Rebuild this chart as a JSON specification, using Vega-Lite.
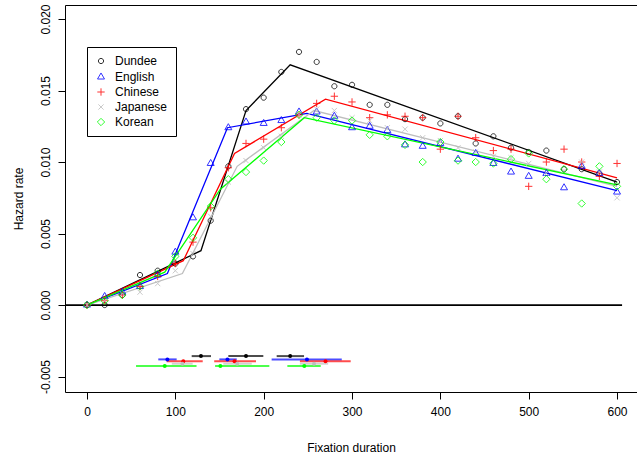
{
  "$schema": "https://vega.github.io/schema/vega-lite/v6.json",
  "width": 572,
  "height": 387,
  "autosize": {"type": "none"},
  "padding": {"left": 65, "top": 5, "right": 0, "bottom": 63},
  "background": "white",
  "config": {
    "view": {"stroke": "black", "strokeWidth": 1},
    "font": "Liberation Sans",
    "axis": {"labelFont": "Liberation Sans", "titleFont": "Liberation Sans"}
  },
  "datasets": {
    "fit": [
      {"l": "Dundee", "d": 0, "h": 0}, {"l": "Dundee", "d": 129, "h": 0.0038}, {"l": "Dundee", "d": 180, "h": 0.0136}, {"l": "Dundee", "d": 230, "h": 0.0168}, {"l": "Dundee", "d": 600, "h": 0.0086},
      {"l": "English", "d": 0, "h": 0}, {"l": "English", "d": 91, "h": 0.0022}, {"l": "English", "d": 159, "h": 0.0124}, {"l": "English", "d": 249, "h": 0.0134}, {"l": "English", "d": 600, "h": 0.0080},
      {"l": "Chinese", "d": 0, "h": 0}, {"l": "Chinese", "d": 109, "h": 0.0031}, {"l": "Chinese", "d": 167, "h": 0.0106}, {"l": "Chinese", "d": 270, "h": 0.0144}, {"l": "Chinese", "d": 600, "h": 0.0089},
      {"l": "Japanese", "d": 0, "h": 0}, {"l": "Japanese", "d": 108, "h": 0.0022}, {"l": "Japanese", "d": 170, "h": 0.0097}, {"l": "Japanese", "d": 257, "h": 0.0136}, {"l": "Japanese", "d": 600, "h": 0.0083},
      {"l": "Korean", "d": 0, "h": 0}, {"l": "Korean", "d": 88, "h": 0.0023}, {"l": "Korean", "d": 151, "h": 0.0081}, {"l": "Korean", "d": 246, "h": 0.0131}, {"l": "Korean", "d": 600, "h": 0.0084}
    ],
    "obs": [
      {"l":"Dundee","d":0,"h":0},{"l":"Dundee","d":20,"h":0},{"l":"Dundee","d":40,"h":0.0007},{"l":"Dundee","d":60,"h":0.0021},{"l":"Dundee","d":80,"h":0.0024},{"l":"Dundee","d":100,"h":0.0029},{"l":"Dundee","d":120,"h":0.0034},{"l":"Dundee","d":140,"h":0.0059},{"l":"Dundee","d":160,"h":0.0097},{"l":"Dundee","d":180,"h":0.0137},{"l":"Dundee","d":200,"h":0.0145},{"l":"Dundee","d":220,"h":0.0163},{"l":"Dundee","d":240,"h":0.0177},{"l":"Dundee","d":260,"h":0.0170},{"l":"Dundee","d":280,"h":0.0153},{"l":"Dundee","d":300,"h":0.0154},{"l":"Dundee","d":320,"h":0.0140},{"l":"Dundee","d":340,"h":0.0140},{"l":"Dundee","d":360,"h":0.0130},{"l":"Dundee","d":380,"h":0.0131},{"l":"Dundee","d":400,"h":0.0127},{"l":"Dundee","d":420,"h":0.0132},{"l":"Dundee","d":440,"h":0.0113},{"l":"Dundee","d":460,"h":0.0118},{"l":"Dundee","d":480,"h":0.0110},{"l":"Dundee","d":500,"h":0.0107},{"l":"Dundee","d":520,"h":0.0108},{"l":"Dundee","d":540,"h":0.0095},{"l":"Dundee","d":560,"h":0.0095},{"l":"Dundee","d":580,"h":0.0092},{"l":"Dundee","d":600,"h":0.0086},
      {"l":"English","d":0,"h":0},{"l":"English","d":20,"h":0.0006},{"l":"English","d":40,"h":0.0009},{"l":"English","d":60,"h":0.0013},{"l":"English","d":80,"h":0.0021},{"l":"English","d":100,"h":0.0037},{"l":"English","d":120,"h":0.0061},{"l":"English","d":140,"h":0.0099},{"l":"English","d":160,"h":0.0124},{"l":"English","d":180,"h":0.0128},{"l":"English","d":200,"h":0.0127},{"l":"English","d":220,"h":0.0129},{"l":"English","d":240,"h":0.0135},{"l":"English","d":260,"h":0.0135},{"l":"English","d":280,"h":0.0132},{"l":"English","d":300,"h":0.0124},{"l":"English","d":320,"h":0.0125},{"l":"English","d":340,"h":0.0122},{"l":"English","d":360,"h":0.0112},{"l":"English","d":380,"h":0.0111},{"l":"English","d":400,"h":0.0113},{"l":"English","d":420,"h":0.0102},{"l":"English","d":440,"h":0.0106},{"l":"English","d":460,"h":0.0099},{"l":"English","d":480,"h":0.0093},{"l":"English","d":500,"h":0.0090},{"l":"English","d":520,"h":0.0092},{"l":"English","d":540,"h":0.0082},{"l":"English","d":560,"h":0.0097},{"l":"English","d":580,"h":0.0092},{"l":"English","d":600,"h":0.0079},
      {"l":"Chinese","d":0,"h":0},{"l":"Chinese","d":20,"h":0.0003},{"l":"Chinese","d":40,"h":0.0007},{"l":"Chinese","d":60,"h":0.0013},{"l":"Chinese","d":80,"h":0.0020},{"l":"Chinese","d":100,"h":0.0029},{"l":"Chinese","d":120,"h":0.0044},{"l":"Chinese","d":140,"h":0.0068},{"l":"Chinese","d":160,"h":0.0096},{"l":"Chinese","d":180,"h":0.0113},{"l":"Chinese","d":200,"h":0.0116},{"l":"Chinese","d":220,"h":0.0124},{"l":"Chinese","d":240,"h":0.0133},{"l":"Chinese","d":260,"h":0.0141},{"l":"Chinese","d":280,"h":0.0146},{"l":"Chinese","d":300,"h":0.0142},{"l":"Chinese","d":320,"h":0.0131},{"l":"Chinese","d":340,"h":0.0133},{"l":"Chinese","d":360,"h":0.0132},{"l":"Chinese","d":380,"h":0.0131},{"l":"Chinese","d":400,"h":0.0109},{"l":"Chinese","d":420,"h":0.0132},{"l":"Chinese","d":440,"h":0.0117},{"l":"Chinese","d":460,"h":0.0108},{"l":"Chinese","d":480,"h":0.0109},{"l":"Chinese","d":500,"h":0.0083},{"l":"Chinese","d":520,"h":0.0100},{"l":"Chinese","d":540,"h":0.0109},{"l":"Chinese","d":560,"h":0.0100},{"l":"Chinese","d":580,"h":0.0090},{"l":"Chinese","d":600,"h":0.0099},
      {"l":"Japanese","d":0,"h":0},{"l":"Japanese","d":20,"h":0.0003},{"l":"Japanese","d":40,"h":0.0008},{"l":"Japanese","d":60,"h":0.0009},{"l":"Japanese","d":80,"h":0.0015},{"l":"Japanese","d":100,"h":0.0024},{"l":"Japanese","d":120,"h":0.0036},{"l":"Japanese","d":140,"h":0.0062},{"l":"Japanese","d":160,"h":0.0086},{"l":"Japanese","d":180,"h":0.0101},{"l":"Japanese","d":200,"h":0.0110},{"l":"Japanese","d":220,"h":0.0118},{"l":"Japanese","d":240,"h":0.0133},{"l":"Japanese","d":260,"h":0.0137},{"l":"Japanese","d":280,"h":0.0136},{"l":"Japanese","d":300,"h":0.0131},{"l":"Japanese","d":320,"h":0.0129},{"l":"Japanese","d":340,"h":0.0124},{"l":"Japanese","d":360,"h":0.0123},{"l":"Japanese","d":380,"h":0.0117},{"l":"Japanese","d":400,"h":0.0115},{"l":"Japanese","d":420,"h":0.0110},{"l":"Japanese","d":440,"h":0.0107},{"l":"Japanese","d":460,"h":0.0104},{"l":"Japanese","d":480,"h":0.0103},{"l":"Japanese","d":500,"h":0.0099},{"l":"Japanese","d":520,"h":0.0092},{"l":"Japanese","d":540,"h":0.0094},{"l":"Japanese","d":560,"h":0.0100},{"l":"Japanese","d":580,"h":0.0093},{"l":"Japanese","d":600,"h":0.0075},
      {"l":"Korean","d":0,"h":0},{"l":"Korean","d":20,"h":0.0003},{"l":"Korean","d":40,"h":0.0007},{"l":"Korean","d":60,"h":0.0013},{"l":"Korean","d":80,"h":0.0022},{"l":"Korean","d":100,"h":0.0034},{"l":"Korean","d":120,"h":0.0047},{"l":"Korean","d":140,"h":0.0069},{"l":"Korean","d":160,"h":0.0088},{"l":"Korean","d":180,"h":0.0093},{"l":"Korean","d":200,"h":0.0101},{"l":"Korean","d":220,"h":0.0114},{"l":"Korean","d":240,"h":0.0133},{"l":"Korean","d":260,"h":0.0131},{"l":"Korean","d":280,"h":0.0129},{"l":"Korean","d":300,"h":0.0129},{"l":"Korean","d":320,"h":0.0119},{"l":"Korean","d":340,"h":0.0118},{"l":"Korean","d":360,"h":0.0112},{"l":"Korean","d":380,"h":0.0100},{"l":"Korean","d":400,"h":0.0114},{"l":"Korean","d":420,"h":0.0101},{"l":"Korean","d":440,"h":0.0100},{"l":"Korean","d":460,"h":0.0099},{"l":"Korean","d":480,"h":0.0102},{"l":"Korean","d":500,"h":0.0106},{"l":"Korean","d":520,"h":0.0088},{"l":"Korean","d":540,"h":0.0095},{"l":"Korean","d":560,"h":0.0071},{"l":"Korean","d":580,"h":0.0097},{"l":"Korean","d":600,"h":0.0083}
    ],
    "ci": [
      {"l":"Dundee","d":118.5,"d2":140.4,"h":-0.00357},{"l":"Dundee","d":160,"d2":199.6,"h":-0.00357},{"l":"Dundee","d":214.7,"d2":245.7,"h":-0.00357},
      {"l":"English","d":80.7,"d2":101.5,"h":-0.0038},{"l":"English","d":149.8,"d2":169.5,"h":-0.0038},{"l":"English","d":209,"d2":288.4,"h":-0.0038},
      {"l":"Chinese","d":90.2,"d2":131,"h":-0.00393},{"l":"Chinese","d":144,"d2":191.3,"h":-0.00393},{"l":"Chinese","d":241,"d2":298.5,"h":-0.00393},
      {"l":"Japanese","d":96,"d2":119.6,"h":-0.0041},{"l":"Japanese","d":154.3,"d2":186.5,"h":-0.0041},{"l":"Japanese","d":241,"d2":273,"h":-0.0041},
      {"l":"Korean","d":55.5,"d2":124,"h":-0.00426},{"l":"Korean","d":145,"d2":206.4,"h":-0.00426},{"l":"Korean","d":226.8,"d2":264.6,"h":-0.00426}
    ],
    "bp": [
      {"l":"Dundee","d":129,"h":-0.00357},{"l":"Dundee","d":180,"h":-0.00357},{"l":"Dundee","d":230,"h":-0.00357},
      {"l":"English","d":91,"h":-0.0038},{"l":"English","d":159,"h":-0.0038},{"l":"English","d":249,"h":-0.0038},
      {"l":"Chinese","d":109,"h":-0.00393},{"l":"Chinese","d":167,"h":-0.00393},{"l":"Chinese","d":270,"h":-0.00393},
      {"l":"Japanese","d":108,"h":-0.0041},{"l":"Japanese","d":170,"h":-0.0041},{"l":"Japanese","d":257,"h":-0.0041},
      {"l":"Korean","d":88,"h":-0.00426},{"l":"Korean","d":151,"h":-0.00426},{"l":"Korean","d":246,"h":-0.00426}
    ],
    "zero": [{"d": -24.9, "d2": 605.7, "h": 0}]
  },
  "encoding": {
    "x": {
      "field": "d", "type": "quantitative",
      "scale": {"domain": [-24.9, 622.6], "nice": false, "zero": false},
      "axis": {
        "title": "Fixation duration", "values": [0, 100, 200, 300, 400, 500, 600],
        "grid": false, "domain": false, "tickSize": 7, "tickColor": "black", "tickWidth": 1,
        "labelPadding": 7, "labelFontSize": 12, "labelColor": "black", "labelFlush": false,
        "titleFontSize": 12, "titleFontWeight": "normal", "titleColor": "black",
        "titleY": 55, "titleBaseline": "middle"
      }
    },
    "y": {
      "field": "h", "type": "quantitative",
      "scale": {"domain": [-0.00608, 0.02098], "nice": false, "zero": false},
      "axis": {
        "title": "Hazard rate", "values": [-0.005, 0, 0.005, 0.01, 0.015, 0.02],
        "labelExpr": "replace(format(datum.value, '.3f'), '\u2212', '-')",
        "grid": false, "domain": false, "tickSize": 7, "tickColor": "black", "tickWidth": 1,
        "labelAngle": 270, "labelAlign": "center", "labelBaseline": "bottom", "labelPadding": 6,
        "labelFontSize": 12, "labelColor": "black", "labelFlush": false,
        "titleFontSize": 12, "titleFontWeight": "normal", "titleColor": "black",
        "titleX": -47, "titleBaseline": "middle", "titleAngle": 270
      }
    }
  },
  "layer": [
    {
      "data": {"name": "zero"},
      "mark": {"type": "rule", "color": "black", "strokeWidth": 1.8},
      "encoding": {"x2": {"field": "d2"}}
    },
    {
      "data": {"name": "fit"},
      "mark": {"type": "line", "strokeWidth": 1.3},
      "encoding": {
        "stroke": {"field": "l", "type": "nominal", "legend": null,
          "scale": {"domain": ["Korean", "Japanese", "Chinese", "English", "Dundee"], "range": ["#00FF00", "#BEBEBE", "#FF0000", "#0000FF", "#000000"]}}
      }
    },
    {
      "data": {"name": "obs"},
      "mark": {"type": "point", "filled": false, "strokeWidth": 1, "size": 27, "opacity": 0.8},
      "encoding": {
        "color": {"field": "l", "type": "nominal",
          "scale": {"domain": ["Dundee", "English", "Chinese", "Japanese", "Korean"], "range": ["#000000", "#0000FF", "#FF0000", "#BEBEBE", "#00FF00"]},
          "legend": {"title": null, "orient": "none", "legendX": 22, "legendY": 42, "padding": 8, "strokeColor": "black", "fillColor": "white", "symbolSize": 27, "symbolStrokeWidth": 1, "labelFontSize": 12, "labelFont": "Liberation Sans", "labelColor": "black", "rowPadding": 3, "labelOffset": 8}},
        "shape": {"field": "l", "type": "nominal",
          "scale": {"domain": ["Dundee", "English", "Chinese", "Japanese", "Korean"], "range": ["M1,0A1,1,0,1,1,-1,0A1,1,0,1,1,1,0Z", "M0,-1.555L1.347,0.778L-1.347,0.778Z", "M-1.414,0L1.414,0M0,-1.414L0,1.414", "M-1,-1L1,1M-1,1L1,-1", "M0,-1.414L1.414,0L0,1.414L-1.414,0Z"]},
          "legend": {"title": null, "orient": "none", "legendX": 22, "legendY": 42, "padding": 8, "strokeColor": "black", "fillColor": "white", "symbolSize": 27, "symbolStrokeWidth": 1, "labelFontSize": 12, "labelFont": "Liberation Sans", "labelColor": "black", "rowPadding": 3, "labelOffset": 8}}
      }
    },
    {
      "data": {"name": "ci"},
      "mark": {"type": "rule", "strokeWidth": 2, "opacity": 0.7},
      "encoding": {
        "x2": {"field": "d2"},
        "stroke": {"field": "l", "type": "nominal", "legend": null,
          "scale": {"domain": ["Korean", "Japanese", "Chinese", "English", "Dundee"], "range": ["#00FF00", "#BEBEBE", "#FF0000", "#0000FF", "#000000"]}}
      }
    },
    {
      "data": {"name": "bp"},
      "mark": {"type": "circle", "size": 16, "opacity": 1},
      "encoding": {
        "fill": {"field": "l", "type": "nominal", "legend": null,
          "scale": {"domain": ["Korean", "Japanese", "Chinese", "English", "Dundee"], "range": ["#00FF00", "#BEBEBE", "#FF0000", "#0000FF", "#000000"]}}
      }
    }
  ]
}
